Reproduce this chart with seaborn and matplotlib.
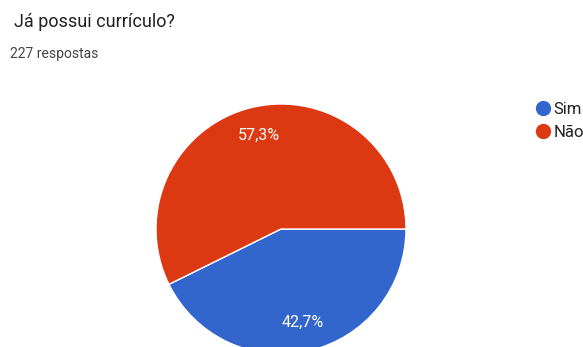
import matplotlib.pyplot as plt
import seaborn as sns
from matplotlib.lines import Line2D

# Data
labels = ["Sim", "Não"]
values = [42.7, 57.3]
colors = ["#3366cc", "#dc3912"]
title = "Já possui currículo?"
subtitle = "227 respostas"

sns.set_theme(style="white")
plt.rcParams['font.family'] = ['Roboto', 'DejaVu Sans']

W, H = 583, 347
fig = plt.figure(figsize=(W / 100, H / 100), dpi=100)
fig.patch.set_facecolor("white")

# pie placed by pixel centre / radius
cx, cy, r = 281, 229, 125
ax = fig.add_axes([(cx - r) / W, (H - cy - r) / H, 2 * r / W, 2 * r / H])
wedges, texts, autotexts = ax.pie(
    values, colors=colors, startangle=0, counterclock=False,
    autopct=lambda p: f"{p:.1f}%".replace(".", ","), pctdistance=0.77,
    radius=1, wedgeprops=dict(edgecolor="white", linewidth=1),
    textprops=dict(color="white", fontsize=11.5),
)
for w in wedges:
    w.set_clip_on(False)
ax.set_xlim(-1, 1)
ax.set_ylim(-1, 1)
ax.set_aspect("equal")
ax.axis("off")

fig.text(14 / W, 1 - 22 / H, title, fontsize=13, color="#202124", va="center", ha="left")
fig.text(10 / W, 1 - 54 / H, subtitle, fontsize=10, color="#444444", va="center", ha="left")

handles = [Line2D([], [], marker="o", linestyle="", markersize=10,
                  markerfacecolor=c, markeredgecolor=c) for c in colors]
fig.legend(handles, labels, loc="upper left", bbox_to_anchor=(535 / W, 1 - 102 / H),
           frameon=False, fontsize=12, handletextpad=0.2, labelspacing=0.45,
           handlelength=0.9, borderaxespad=0, borderpad=0, labelcolor="#222222")

fig.savefig("out.png", dpi=100, facecolor="white")
